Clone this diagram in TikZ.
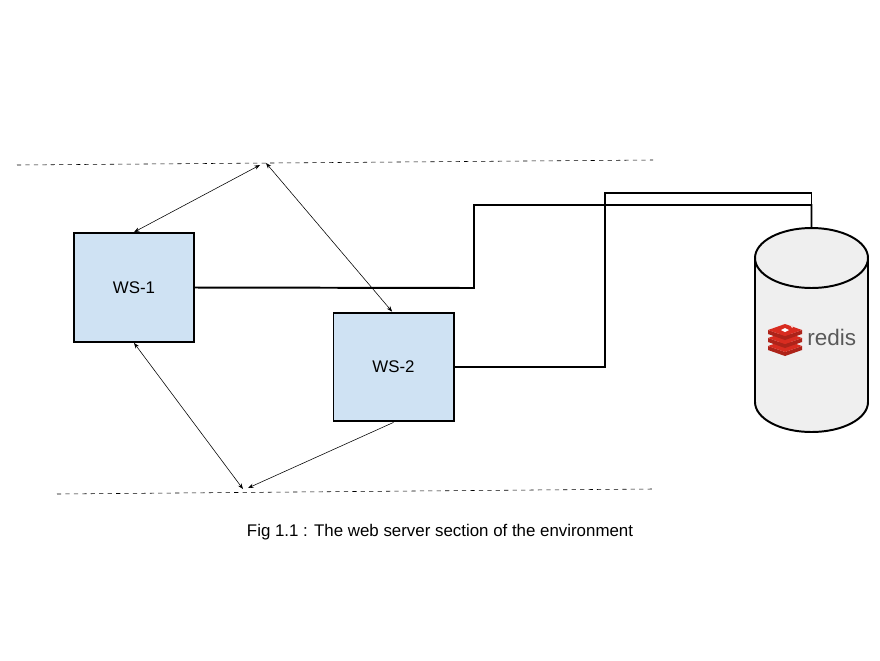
\documentclass[tikz,border=0pt]{standalone}
\usepackage{fontspec}
\setmainfont{Liberation Sans}
\usetikzlibrary{arrows.meta}
\definecolor{wsblue}{HTML}{CFE2F3}
\definecolor{dbgray}{HTML}{EFEFEF}
\definecolor{redisred}{HTML}{D82C20}
\begin{document}
\begin{tikzpicture}[x=0.025cm, y=-0.025cm, >={Stealth[length=4pt,width=3pt]}]
\useasboundingbox (0,0) rectangle (880,660);
\tikzset{
  server/.style={draw, line width=1.4pt, fill=wsblue, minimum width=3cm, minimum height=2.72cm, font=\fontsize{12}{14}\selectfont},
  link/.style={line width=1.4pt},
  sync/.style={<->, line width=0.4pt}
}

% Boundaries
\draw[dashed, line width=0.4pt] (17,165) -- (653,160);
\draw[dashed, line width=0.4pt] (57,494) -- (652,489);

% Servers
\node (ws1) [server] at (134,287.5) {WS-1};
\node (ws2) [server] at (393.5,367) {WS-2};

% Redis store as a cylinder
\draw[line width=1.4pt, fill=dbgray] (755,258) -- (755,402) arc[start angle=180, end angle=360, x radius=56.5, y radius=-30] -- (868,258) arc[start angle=0, end angle=180, x radius=56.5, y radius=-30] -- cycle;
\draw[line width=1.4pt] (755,258) arc[start angle=180, end angle=360, x radius=56.5, y radius=-30];
\coordinate (dbtop) at (811.5,228);
\coordinate (up1) at (260,165);
\coordinate (up2) at (266,163);
\coordinate (lo1) at (243,489);
\coordinate (lo2) at (248,488);

% Redis logo
\begin{scope}[shift={(785,338)}]
  \foreach \dy in {8,0,-8} {
    \fill[redisred!80!black] (-17,\dy) -- (0,\dy+6) -- (17,\dy) -- (17,\dy+4) -- (0,\dy+10) -- (-17,\dy+4) -- cycle;
    \fill[redisred] (-17,\dy) -- (0,\dy-6) -- (17,\dy) -- (0,\dy+6) -- cycle;
  }
  \fill[white] (-4,-8) -- (0,-10) -- (4,-8) -- (0,-6) -- cycle;
  \fill[white!80!redisred] (5,-13) -- (9,-12) -- (7,-10) -- cycle;
\end{scope}
\node (logo) [text=black!65, font=\fontsize{16}{18}\selectfont, anchor=west, inner sep=0pt] at (807,337) {redis};

% Links
\draw[link] (ws1.east) -- (474,288) -- (474,205) -- (811.5,205) -- (dbtop);
\draw[link] (ws2.east) -- (605,367) -- (605,193) -- (811.5,193) -- (dbtop);
\draw[sync] (up1) -- (ws1.north);
\draw[sync] (up2) -- ([xshift=-1]ws2.north);
\draw[sync] (lo1) -- (ws1.south);
\draw[->, line width=0.4pt] (ws2.south) -- (lo2);

\node (caption) [font=\fontsize{12}{14}\selectfont] at (440,532) {Fig 1.1 : The web server section of the environment};
\end{tikzpicture}
\end{document}
